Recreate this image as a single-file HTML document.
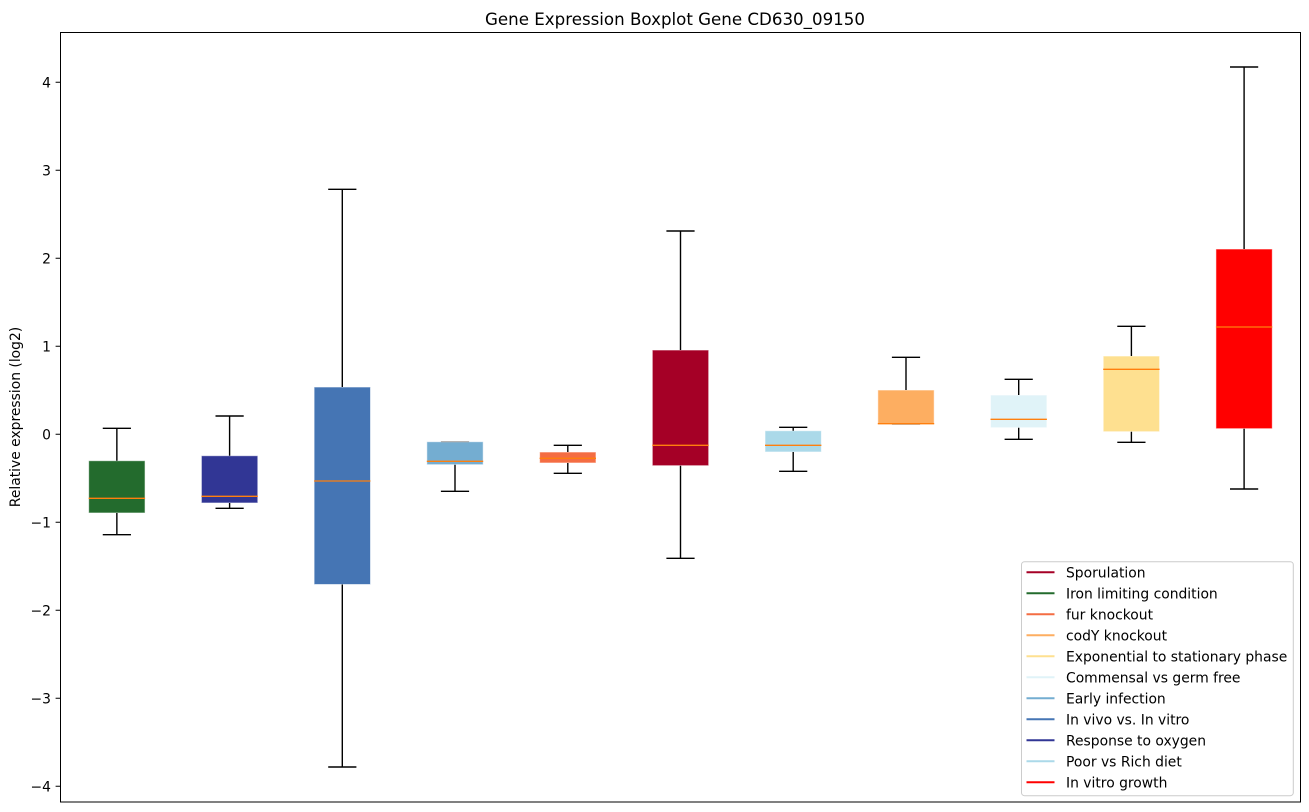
<!DOCTYPE html>
<html>
<head>
<meta charset="utf-8">
<style>
html,body{margin:0;padding:0;background:#fff;}
svg{display:block;}
text{font-family:"DejaVu Sans","Liberation Sans",sans-serif;fill:#000;}
</style>
</head>
<body>
<svg width="1309" height="812" viewBox="0 0 1309 812" xmlns="http://www.w3.org/2000/svg">
<rect x="0" y="0" width="1309" height="812" fill="#fff"/>
<!-- title -->
<text x="675" y="25" font-size="16.67" text-anchor="middle">Gene Expression Boxplot Gene CD630_09150</text>
<!-- y label -->
<text transform="translate(20,417) rotate(-90)" font-size="13.89" text-anchor="middle">Relative expression (log2)</text>

<!-- boxes -->
<g stroke="#ffffff" stroke-opacity="0.6" stroke-width="1">
<rect x="88.66" y="460.7" width="56.4" height="52.3" fill="#236b2d"/>
<rect x="201.4" y="455.7" width="56.4" height="47.3" fill="#313695"/>
<rect x="314.1" y="387" width="56.4" height="197.5" fill="#4575b4"/>
<rect x="426.8" y="441.7" width="56.4" height="23" fill="#74add1"/>
<rect x="539.6" y="452" width="56.4" height="11" fill="#f46d43"/>
<rect x="652.3" y="350" width="56.4" height="115.7" fill="#a50026"/>
<rect x="765.0" y="430.7" width="56.4" height="21.3" fill="#abd9e9"/>
<rect x="877.8" y="390" width="56.4" height="34" fill="#fdae61"/>
<rect x="990.5" y="395" width="56.4" height="32.7" fill="#e0f3f8"/>
<rect x="1103.2" y="356" width="56.4" height="75.7" fill="#fee090"/>
<rect x="1215.9" y="249" width="56.4" height="179.7" fill="#ff0000"/>
</g>

<!-- whiskers & caps -->
<g stroke="#000" stroke-width="1.4" fill="none">
<path d="M116.86 460.7V428.3M116.86 513V534.7M102.76 428.3H130.96M102.76 534.7H130.96"/>
<path d="M229.6 455.7V416M229.6 503V508.3M215.5 416H243.7M215.5 508.3H243.7"/>
<path d="M342.3 387V189.3M342.3 584.5V767M328.2 189.3H356.4M328.2 767H356.4"/>
<path d="M455.0 464.7V491.3M440.9 491.3H469.1"/>
<path d="M567.8 452V445.3M567.8 463V473.3M553.7 445.3H581.9M553.7 473.3H581.9"/>
<path d="M680.5 350V231M680.5 465.7V558.3M666.4 231H694.6M666.4 558.3H694.6"/>
<path d="M793.2 430.7V427.3M793.2 452V471.3M779.1 427.3H807.3M779.1 471.3H807.3"/>
<path d="M906.0 390V357.3M891.9 357.3H920.1"/>
<path d="M1018.7 395V379.3M1018.7 427.7V439.3M1004.6 379.3H1032.8M1004.6 439.3H1032.8"/>
<path d="M1131.4 356V326.3M1131.4 431.7V442.3M1117.3 326.3H1145.5M1117.3 442.3H1145.5"/>
<path d="M1244.1 249V67M1244.1 428.7V489M1230 67H1258.2M1230 489H1258.2"/>
</g>
<g stroke="#9a9a9a" stroke-width="1" fill="none">
<path d="M440.9 441.7H469.1"/>
<path d="M891.9 424.3H920.1"/>
</g>

<!-- medians -->
<g stroke="#ff7f0e" stroke-width="1.3">
<path d="M88.66 498.3H145.06"/>
<path d="M201.4 496.3H257.8"/>
<path d="M314.1 481H370.5"/>
<path d="M426.8 461.3H483.2"/>
<path d="M539.6 458.3H596"/>
<path d="M652.3 445.3H708.7"/>
<path d="M765.0 445.3H821.4"/>
<path d="M877.8 423.7H934.2"/>
<path d="M990.5 419.3H1046.9"/>
<path d="M1103.2 369.3H1159.6"/>
<path d="M1215.9 327H1272.3"/>
</g>

<!-- axes frame -->
<rect x="60.5" y="32.5" width="1240" height="769.5" fill="none" stroke="#000" stroke-width="1"/>

<!-- y ticks -->
<g stroke="#000" stroke-width="1">
<path d="M55.6 82.3H60.5M55.6 170.3H60.5M55.6 258.3H60.5M55.6 346.3H60.5M55.6 434.3H60.5M55.6 522.3H60.5M55.6 610.3H60.5M55.6 698.3H60.5M55.6 786.3H60.5"/>
</g>
<g font-size="13.89" text-anchor="end">
<text x="51" y="87.3">4</text>
<text x="51" y="175.3">3</text>
<text x="51" y="263.3">2</text>
<text x="51" y="351.3">1</text>
<text x="51" y="439.3">0</text>
<text x="51" y="527.3">−1</text>
<text x="51" y="615.3">−2</text>
<text x="51" y="703.3">−3</text>
<text x="51" y="791.3">−4</text>
</g>

<!-- legend -->
<rect x="1021.5" y="561.7" width="271.8" height="234" rx="3" ry="3" fill="#fff" fill-opacity="0.8" stroke="#cccccc" stroke-width="1"/>
<g stroke-width="2">
<path d="M1026.5 572.3H1054.5" stroke="#a50026"/>
<path d="M1026.5 593.3H1054.5" stroke="#236b2d"/>
<path d="M1026.5 614.3H1054.5" stroke="#f46d43"/>
<path d="M1026.5 635.3H1054.5" stroke="#fdae61"/>
<path d="M1026.5 656.3H1054.5" stroke="#fee090"/>
<path d="M1026.5 677.3H1054.5" stroke="#e0f3f8"/>
<path d="M1026.5 698.3H1054.5" stroke="#74add1"/>
<path d="M1026.5 719.3H1054.5" stroke="#4575b4"/>
<path d="M1026.5 740.3H1054.5" stroke="#313695"/>
<path d="M1026.5 761.3H1054.5" stroke="#abd9e9"/>
<path d="M1026.5 782.3H1054.5" stroke="#ff0000"/>
</g>
<g font-size="13.89">
<text x="1066" y="577.3">Sporulation</text>
<text x="1066" y="598.3">Iron limiting condition</text>
<text x="1066" y="619.3">fur knockout</text>
<text x="1066" y="640.3">codY knockout</text>
<text x="1066" y="661.3">Exponential to stationary phase</text>
<text x="1066" y="682.3">Commensal vs germ free</text>
<text x="1066" y="703.3">Early infection</text>
<text x="1066" y="724.3">In vivo vs. In vitro</text>
<text x="1066" y="745.3">Response to oxygen</text>
<text x="1066" y="766.3">Poor vs Rich diet</text>
<text x="1066" y="787.3">In vitro growth</text>
</g>
</svg>
</body>
</html>
